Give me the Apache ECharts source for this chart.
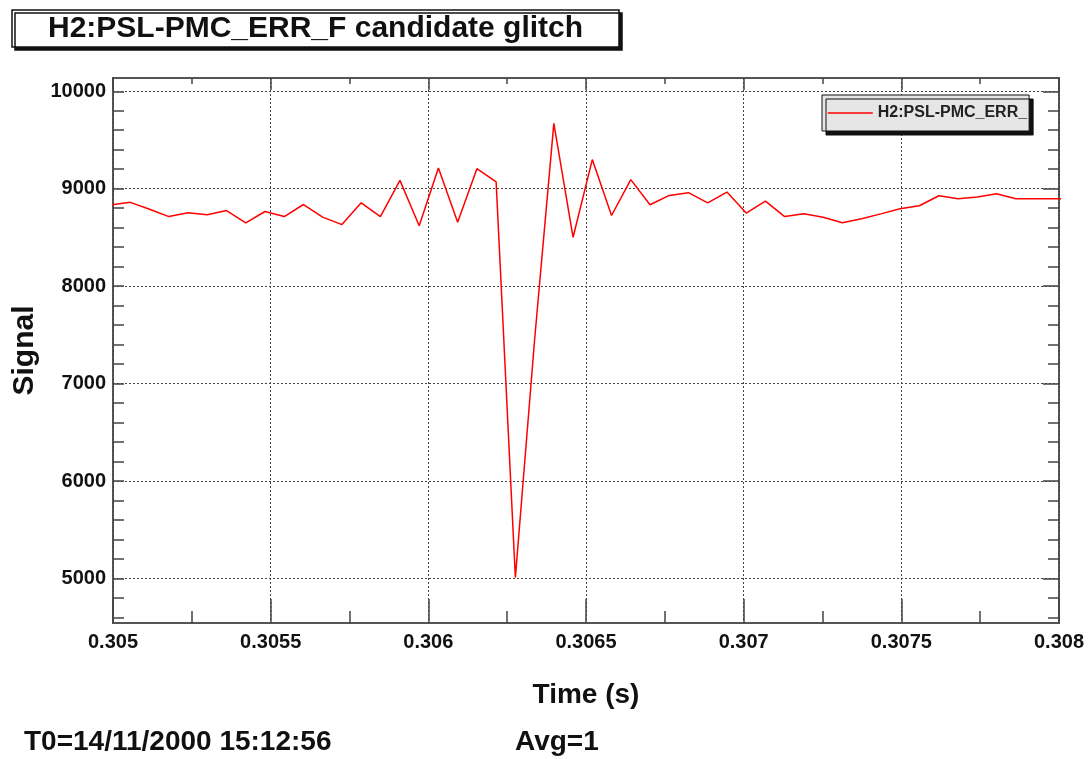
<!DOCTYPE html>
<html>
<head>
<meta charset="utf-8">
<title>H2:PSL-PMC_ERR_F candidate glitch</title>
<script src="https://cdn.jsdelivr.net/npm/echarts@6/dist/echarts.min.js"></script>
<style>
  html, body { margin: 0; padding: 0; background: #fff; }
  #chart { width: 1091px; height: 759px; }
</style>
</head>
<body>
<div id="chart"></div>
<script>
// sample times (s), 16384 Hz samples; first and last fall just outside the frame
var times = [
  0.304994, 0.305055, 0.305116, 0.305177, 0.305238, 0.305299, 0.305360, 0.305421, 0.305482, 0.305543,
  0.305604, 0.305665, 0.305726, 0.305787, 0.305848, 0.305910, 0.305971, 0.306032, 0.306093, 0.306154,
  0.306215, 0.306276, 0.306337, 0.306398, 0.306459, 0.306520, 0.306581, 0.306642, 0.306703, 0.306764,
  0.306825, 0.306886, 0.306947, 0.307008, 0.307069, 0.307130, 0.307191, 0.307252, 0.307313, 0.307374,
  0.307435, 0.307496, 0.307557, 0.307619, 0.307680, 0.307741, 0.307802, 0.307863, 0.307924, 0.307985,
  0.308046
];
// signal values
var signal = [
  8835, 8860, 8790, 8714, 8753, 8732, 8776, 8650, 8766, 8714,
  8838, 8708, 8632, 8855, 8714, 9086, 8620, 9213, 8657, 9206,
  9069, 5010, 7450, 9670, 8502, 9299, 8725, 9093, 8835, 8931,
  8959, 8855, 8966, 8750, 8873, 8714, 8742, 8708, 8650, 8691,
  8742, 8794, 8825, 8928, 8897, 8914, 8948, 8897, 8897, 8897,
  8897
];
var seriesName = 'H2:PSL-PMC_ERR_F';
var yTicks = [5000, 6000, 7000, 8000, 9000, 10000];
var yMinorTicks = [
  4600, 4800, 5000, 5200, 5400, 5600, 5800, 6000, 6200, 6400, 6600, 6800, 7000,
  7200, 7400, 7600, 7800, 8000, 8200, 8400, 8600, 8800, 9000, 9200, 9400, 9600, 9800, 10000
];

var font = 'Liberation Sans';
var tickColor = '#444';
var gridLine = { show: true, lineStyle: { color: '#444', width: 1, type: [2, 2] } };

var chart = echarts.init(document.getElementById('chart'));

chart.setOption({
  animation: false,
  backgroundColor: '#fff',
  title: {
    text: 'H2:PSL-PMC_ERR_F candidate glitch',
    left: 12,
    top: 10,
    padding: [3, 36, 3, 36],
    backgroundColor: '#fff',
    borderColor: '#111',
    borderWidth: 1.5,
    shadowColor: '#111',
    shadowOffsetX: 3,
    shadowOffsetY: 3,
    textStyle: { fontFamily: font, fontWeight: 'bold', fontSize: 30, lineHeight: 31, color: '#111' }
  },
  legend: {
    data: [seriesName],
    left: 822,
    top: 95,
    padding: [10, 2, 10, 5],
    itemWidth: 45,
    itemHeight: 14,
    itemStyle: { opacity: 0 },
    lineStyle: { width: 1.5 },
    backgroundColor: '#e6e6e6',
    borderColor: '#111',
    borderWidth: 1,
    shadowColor: '#111',
    shadowOffsetX: 4,
    shadowOffsetY: 4,
    selectedMode: false,
    textStyle: {
      fontFamily: font, fontWeight: 'bold', fontSize: 16, color: '#222',
      width: 160, overflow: 'truncate', ellipsis: ''
    }
  },
  grid: {
    left: 113, top: 78, right: 32, bottom: 136,
    show: true, borderColor: '#555', borderWidth: 2
  },
  xAxis: [
    {
      type: 'value', position: 'bottom',
      min: 0.305, max: 0.308, interval: 0.0005,
      name: 'Time (s)', nameLocation: 'middle', nameGap: 58,
      nameTextStyle: { fontFamily: font, fontWeight: 'bold', fontSize: 28, color: '#111' },
      axisLine: { show: false },
      axisTick: { inside: true, length: 24, lineStyle: { color: tickColor, width: 1.5 } },
      minorTick: { show: true, splitNumber: 2, length: 12, lineStyle: { color: tickColor, width: 1.5 } },
      axisLabel: {
        margin: 9, fontFamily: font, fontWeight: 'bold', fontSize: 20, color: '#111',
        formatter: function (v) { return String(+v.toFixed(4)); }
      },
      splitLine: gridLine
    },
    {
      type: 'value', position: 'top',
      min: 0.305, max: 0.308, interval: 0.0005,
      axisLine: { show: false },
      axisTick: { inside: true, length: 12, lineStyle: { color: tickColor, width: 1.5 } },
      minorTick: { show: true, splitNumber: 2, length: 6, lineStyle: { color: tickColor, width: 1.5 } },
      axisLabel: { show: false },
      splitLine: { show: false }
    }
  ],
  yAxis: [
    {
      // labels + minor ticks on the left
      type: 'value', position: 'left',
      min: 4544, max: 10136,
      name: 'Signal', nameLocation: 'middle', nameGap: 45, nameRotate: 90,
      nameTextStyle: { fontFamily: font, fontWeight: 'bold', fontSize: 30, color: '#111' },
      axisLine: { show: false },
      axisTick: { inside: true, length: 11, customValues: yMinorTicks, lineStyle: { color: tickColor, width: 1.5 } },
      axisLabel: {
        customValues: yTicks, margin: 7,
        fontFamily: font, fontWeight: 'bold', fontSize: 20, color: '#111',
        formatter: function (v) { return String(v); }
      },
      splitLine: { show: false }
    },
    {
      // minor ticks on the right
      type: 'value', position: 'right',
      min: 4544, max: 10136,
      axisLine: { show: false },
      axisTick: { inside: true, length: 11, customValues: yMinorTicks, lineStyle: { color: tickColor, width: 1.5 } },
      axisLabel: { show: false },
      splitLine: { show: false }
    },
    {
      // major ticks + grid lines (ends up on the left, right is taken)
      type: 'value', position: 'right',
      min: 4544, max: 10136,
      axisLine: { show: false },
      axisTick: { inside: true, length: 16, customValues: yTicks, lineStyle: { color: tickColor, width: 1.5 } },
      axisLabel: { show: false },
      splitLine: gridLine
    }
  ],
  series: [
    {
      name: seriesName,
      type: 'line',
      xAxisIndex: 0,
      yAxisIndex: 0,
      symbol: 'none',
      clip: true,
      lineStyle: { color: '#ff0000', width: 1.5 },
      itemStyle: { color: '#ff0000' },
      data: times.map(function (t, i) { return [t, signal[i]]; })
    }
  ],
  graphic: [
    {
      type: 'text', left: 24, top: 728,
      style: { text: 'T0=14/11/2000 15:12:56', fontFamily: font, fontWeight: 'bold', fontSize: 28, fill: '#111' }
    },
    {
      type: 'text', left: 515, top: 728,
      style: { text: 'Avg=1', fontFamily: font, fontWeight: 'bold', fontSize: 28, fill: '#111' }
    }
  ]
});
</script>
</body>
</html>
